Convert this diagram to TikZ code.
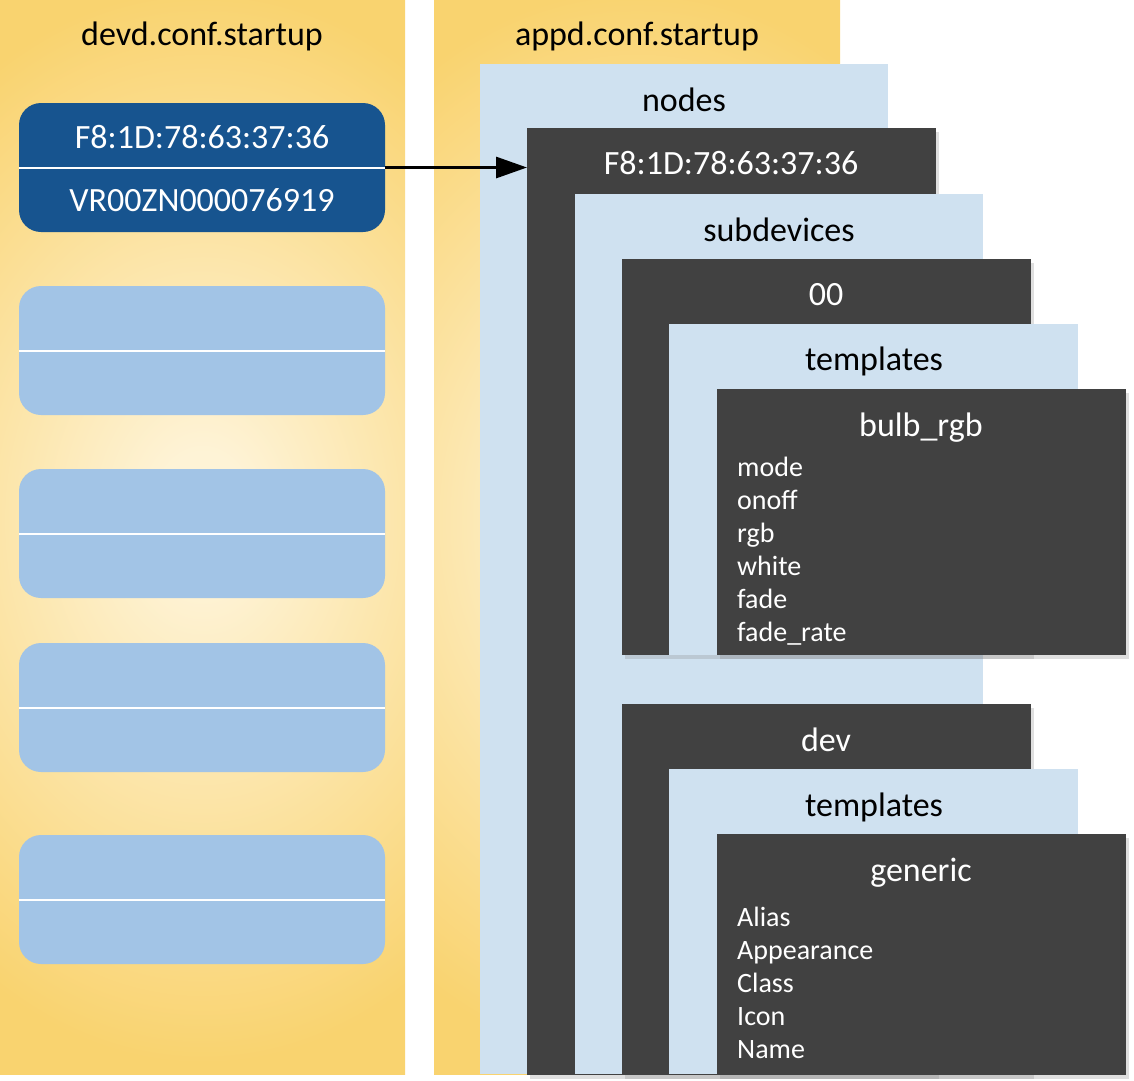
\documentclass[tikz,border=0pt]{standalone}
\usepackage{fontspec}
\setmainfont{Carlito}
\usetikzlibrary{arrows.meta,shadows}
\definecolor{yd}{HTML}{F9D36F}
\definecolor{yl}{HTML}{FEF3D6}
\definecolor{navy}{HTML}{17548F}
\definecolor{pale}{HTML}{A2C4E6}
\definecolor{ice}{HTML}{CFE1F0}
\definecolor{charc}{HTML}{414141}
\pgfdeclareradialshading{panelshade}{\pgfpoint{0bp}{1bp}}{color(0bp)=(yl); color(3bp)=(yl); color(25bp)=(yd); color(50bp)=(yd)}
\tikzset{
  box/.style={anchor=north west, inner sep=0pt, outer sep=0pt, draw=none},
  panel/.style={box},
  navybox/.style={box, fill=navy, rounded corners=22pt, minimum width=366pt, minimum height=129pt},
  palebox/.style={box, fill=pale, rounded corners=22pt, minimum width=366pt, minimum height=129pt},
  icebox/.style={box, fill=ice},
  darkbox/.style={box, fill=charc, drop shadow={opacity=0.25, shadow xshift=3pt, shadow yshift=-4pt}},
  ttl/.style={anchor=base, inner sep=0pt, font=\fontsize{34}{40}\selectfont},
  wttl/.style={ttl, text=white},
  item/.style={anchor=base west, inner sep=0pt, text=white, font=\fontsize{28}{33}\selectfont},
  divider/.style={white, line width=2pt},
}
\begin{document}
\begin{tikzpicture}[x=1pt, y=-1pt]
\useasboundingbox (0,0) rectangle (1134,1080);
% panels
\node[panel, minimum width=405pt, minimum height=1074pt] (devd) at (0,0) {};
\node[panel, minimum width=406pt, minimum height=1074pt] (appd) at (434,0) {};
\begin{scope}
  \clip (devd.north west) rectangle (devd.south east);
  \shade[shading=panelshade] (-200,0) rectangle (605,1074);
\end{scope}
\begin{scope}
  \clip (appd.north west) rectangle (appd.south east);
  \shade[shading=panelshade] (234,0) rectangle (1040,1074);
\end{scope}
% left panel content
\node[ttl] (devdt) at (202,45) {devd.conf.startup};
\node[navybox] (mac) at (19,103) {};
\draw[divider] (mac.west) -- (mac.east);
\node[wttl] (macA) at (202,148) {F8:1D:78:63:37:36};
\node[wttl] (macB) at (202,211) {VR00ZN000076919};
\node[palebox] (p1) at (19,286) {};
\draw[divider] (p1.west) -- (p1.east);
\node[palebox] (p2) at (19,469) {};
\draw[divider] (p2.west) -- (p2.east);
\node[palebox] (p3) at (19,643) {};
\draw[divider] (p3.west) -- (p3.east);
\node[palebox] (p4) at (19,835) {};
\draw[divider] (p4.west) -- (p4.east);
% right panel content
\node[ttl] (appdt) at (637,45) {appd.conf.startup};
\node[icebox, minimum width=408pt, minimum height=1010pt] (nodes) at (480,64) {};
\node[ttl] (nodest) at (684,111) {nodes};
\node[darkbox, minimum width=409pt, minimum height=947pt] (f8) at (527,128) {};
\node[wttl] (f8t) at (731,174) {F8:1D:78:63:37:36};
\node[icebox, minimum width=408pt, minimum height=880pt] (sub) at (575,194) {};
\node[ttl] (subt) at (779,241) {subdevices};
\node[darkbox, minimum width=409pt, minimum height=396pt] (zz) at (622,259) {};
\node[wttl] (zzt) at (826,305) {00};
\node[icebox, minimum width=409pt, minimum height=331pt] (tpa) at (669,324) {};
\node[ttl] (tpat) at (874,370) {templates};
\node[darkbox, minimum width=409pt, minimum height=266pt] (bulb) at (717,389) {};
\node[wttl] (bulbt) at (921,436) {bulb\_rgb};
\node[item] (b1) at (737,476) {mode};
\node[item] (b2) at (737,509) {onoff};
\node[item] (b3) at (737,542) {rgb};
\node[item] (b4) at (737,575) {white};
\node[item] (b5) at (737,608) {fade};
\node[item] (b6) at (737,641) {fade\_rate};
\node[darkbox, minimum width=409pt, minimum height=371pt] (dev) at (622,704) {};
\node[wttl] (devt) at (826,751) {dev};
\node[icebox, minimum width=409pt, minimum height=305pt] (tpb) at (669,769) {};
\node[ttl] (tpbt) at (874,816) {templates};
\node[darkbox, minimum width=409pt, minimum height=241pt] (gen) at (717,834) {};
\node[wttl] (gent) at (921,881) {generic};
\node[item] (g1) at (737,926) {Alias};
\node[item] (g2) at (737,959) {Appearance};
\node[item] (g3) at (737,992) {Class};
\node[item] (g4) at (737,1025) {Icon};
\node[item] (g5) at (737,1058) {Name};
% arrow
\draw[line width=3pt, -{Triangle[length=31pt,width=21pt]}] (mac.east) -- (mac.east -| f8.west);
\end{tikzpicture}
\end{document}
